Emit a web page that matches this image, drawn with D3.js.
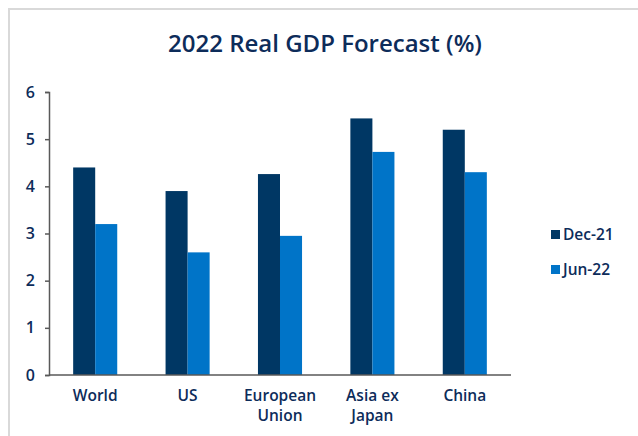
<!DOCTYPE html>
<html><head><meta charset="utf-8">
<script src="https://cdn.jsdelivr.net/npm/d3@7"></script>
<style>
html,body{margin:0;padding:0;background:#fff;}
svg{display:block;}
text{font-family:"Open Sans","Noto Sans",sans-serif;fill:#0d2c5a;}
</style></head>
<body><svg id="c" width="638" height="436"></svg>
<script>
const categories = [["World"],["US"],["European","Union"],["Asia ex","Japan"],["China"]];
const seriesNames = ["Dec-21","Jun-22"];
const dec21 = [4.4, 3.9, 4.26, 5.44, 5.2];
const jun22 = [3.2, 2.6, 2.95, 4.73, 4.3];
const yTicks = [0,1,2,3,4,5,6];
const colors = ["#003764","#0074c8"];

(function(){
const svg = d3.select("#c");
svg.append("path").attr("d","M9,436 V9 H638").attr("fill","none").attr("stroke","#d9d9d9").attr("stroke-width",2);

const pl=49, pr=511, pt=92, pb=375;
const x = d3.scaleBand().domain(d3.range(categories.length)).range([pl,pr]).paddingInner(0.523).paddingOuter(0.2615);
const xs = d3.scaleBand().domain([0,1]).range([0,x.bandwidth()]);
const y = d3.scaleLinear().domain([0,6]).range([pb,pt]);

svg.append("text").attr("x",325).attr("y",52).attr("text-anchor","middle")
  .style("font-size","24px").style("font-weight","600").text("2022 Real GDP Forecast (%)");

const series=[dec21,jun22];
series.forEach((vals,si)=>{
  svg.append("g").selectAll("rect").data(vals).join("rect")
    .attr("x",(d,i)=>x(i)+xs(si)).attr("width",xs.bandwidth())
    .attr("y",d=>y(d)).attr("height",d=>y(0)-y(d)).attr("fill",colors[si]);
});

const ya = svg.append("g").attr("transform",`translate(${pl},0)`)
  .call(d3.axisLeft(y).tickValues(yTicks).tickSize(4).tickPadding(10).tickFormat(d3.format("d")));
ya.select(".domain").attr("stroke","#595959").attr("stroke-width",1.5);
ya.selectAll(".tick line").attr("stroke","#595959").attr("stroke-width",1.5);
ya.selectAll(".tick text").style("font-size","16px").style("font-weight","600").attr("fill","#0d2c5a").style("font-family",'"Open Sans","Noto Sans",sans-serif');

svg.append("line").attr("x1",pl).attr("x2",pr).attr("y1",pb).attr("y2",pb).attr("stroke","#595959").attr("stroke-width",1.5);

const cl = svg.append("g").selectAll("text").data(categories).join("text")
  .attr("x",(d,i)=>x(i)+x.bandwidth()/2).attr("y",401).attr("text-anchor","middle")
  .style("font-size","15.5px").style("font-weight","600");
cl.each(function(d){
  const t=d3.select(this);
  d.forEach((s,j)=>t.append("tspan").attr("x",t.attr("x")).attr("dy",j?20:0).text(s));
});

const lg = svg.append("g").selectAll("g").data(seriesNames).join("g")
  .attr("transform",(d,i)=>`translate(551,${230+i*35})`);
lg.append("rect").attr("width",9).attr("height",9).attr("fill",(d,i)=>colors[i]);
lg.append("text").attr("x",12).attr("y",9.5).style("font-size","15.5px").style("font-weight","600").text(d=>d);
})();
</script></body></html>
